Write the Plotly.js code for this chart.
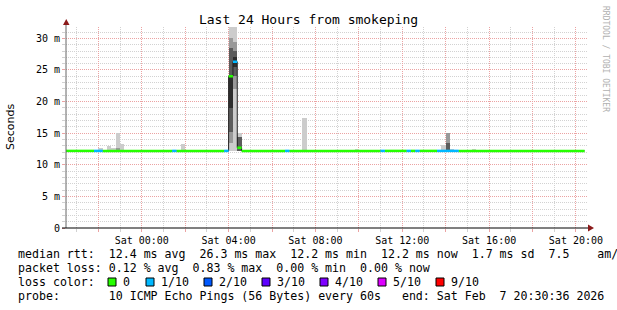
<!DOCTYPE html>
<html>
<head>
<meta charset="utf-8">
<script src="https://cdn.plot.ly/plotly-3.0.1.min.js"></script>
<style>
html,body{margin:0;padding:0;background:#fff;overflow:hidden;}
#chart{width:617px;height:310px;}
</style>
</head>
<body>
<div id="chart"></div>
<script>
// ---------- data ----------
const xStart = '2026-02-06 20:30:36';
const xEnd   = '2026-02-07 20:30:36';

const xTickVals = ['2026-02-06 22:00','2026-02-07 00:00','2026-02-07 02:00','2026-02-07 04:00',
                   '2026-02-07 06:00','2026-02-07 08:00','2026-02-07 10:00','2026-02-07 12:00',
                   '2026-02-07 14:00','2026-02-07 16:00','2026-02-07 18:00','2026-02-07 20:00'];
const xTickText = ['','Sat 00:00','','Sat 04:00','','Sat 08:00','','Sat 12:00','','Sat 16:00','','Sat 20:00'];

const yTickVals = [0,5,10,15,20,25,30];
const yTickText = ['0','5 m','10 m','15 m','20 m','25 m','30 m'];

// median rtt segments (ms) and loss bucket (index into lossColors)
const segStart  = ['2026-02-06 20:30:36','2026-02-06 21:48','2026-02-06 22:12','2026-02-07 01:24','2026-02-07 01:36',
                   '2026-02-07 03:48','2026-02-07 04:00','2026-02-07 04:12','2026-02-07 04:24','2026-02-07 04:36',
                   '2026-02-07 06:36','2026-02-07 06:48','2026-02-07 11:00','2026-02-07 11:12','2026-02-07 12:12',
                   '2026-02-07 12:24','2026-02-07 12:36','2026-02-07 12:48','2026-02-07 13:36','2026-02-07 14:36'];
const segEnd    = ['2026-02-06 21:48','2026-02-06 22:12','2026-02-07 01:24','2026-02-07 01:36','2026-02-07 03:48',
                   '2026-02-07 04:00','2026-02-07 04:12','2026-02-07 04:24','2026-02-07 04:36','2026-02-07 06:36',
                   '2026-02-07 06:48','2026-02-07 11:00','2026-02-07 11:12','2026-02-07 12:12','2026-02-07 12:24',
                   '2026-02-07 12:36','2026-02-07 12:48','2026-02-07 13:36','2026-02-07 14:36','2026-02-07 20:24'];
const segMedian = [12.2,12.2,12.2,12.2,12.2, 12.2,24.0,26.3,12.7,12.2, 12.2,12.2,12.2,12.2,12.2, 12.2,12.2,12.2,12.2,12.2];
const segLoss   = [0,1,0,1,0, 1,0,1,0,0, 1,0,1,0,1, 0,1,0,1,0];

// smoke layers: slot start, low, high (ms); slots are 12 minutes long
const smokeLightStart = ['2026-02-06 22:00','2026-02-06 22:24','2026-02-06 22:36','2026-02-06 22:48','2026-02-06 23:00',
                         '2026-02-07 01:48','2026-02-07 04:00','2026-02-07 04:12','2026-02-07 04:24','2026-02-07 07:24',
                         '2026-02-07 09:48','2026-02-07 13:48','2026-02-07 14:12','2026-02-07 15:12'];
const smokeLightLow   = [12.2,12.2,12.2,12.2,12.2, 12.2,12.2,12.2,12.2,12.2, 12.2,12.2,12.2,12.2];
const smokeLightHigh  = [12.7,12.9,12.7,15.0,13.3, 13.3,33.0,33.0,15.0,17.4, 12.5,13.1,12.5,12.5];

const smokeMidStart = ['2026-02-06 22:48','2026-02-07 04:00','2026-02-07 04:12','2026-02-07 14:00'];
const smokeMidLow   = [12.2,13.4,22.0,12.2];
const smokeMidHigh  = [12.6,30.0,29.4,15.0];

const smokeDarkStart = ['2026-02-07 04:00','2026-02-07 04:12','2026-02-07 04:24','2026-02-07 14:00'];
const smokeDarkLow   = [15.2,24.0,12.2,12.2];
const smokeDarkHigh  = [28.4,28.0,14.4,13.4];

const smokeDarkestStart = ['2026-02-07 04:00','2026-02-07 04:12'];
const smokeDarkestLow   = [19.0,25.5];
const smokeDarkestHigh  = [23.9,27.0];

const lossColors = ['#26ff00','#00b8ff','#0059ff','#5e00ff','#7e00ff','#dd00ff','#ff0000'];
const lossLabels = ['0','1/10','2/10','3/10','4/10','5/10','9/10'];

const legendLines = [
  'median rtt:  12.4 ms avg  26.3 ms max  12.2 ms min  12.2 ms now  1.7 ms sd  7.5    am/s',
  'packet loss: 0.12 % avg  0.83 % max  0.00 % min  0.00 % now',
  'loss color:',
  'probe:       10 ICMP Echo Pings (56 Bytes) every 60s   end: Sat Feb  7 20:30:36 2026'
];

// ---------- geometry ----------
const W = 617, H = 310;
const L = 66, R = 587, T = 27, B = 228;
const px = x => (x - L) / (R - L);
const py = y => (B - y) / (B - T);
const nb = s => s.replace(/ /g, '\u00a0');
const SLOT = 12 * 60 * 1000;

// ---------- traces ----------
function smokeTrace(starts, lows, highs, color) {
  return {
    type: 'bar', x: starts, base: lows, y: highs.map((h, i) => h - lows[i]),
    width: starts.map(() => SLOT), offset: 0,
    marker: { color: color, line: { width: 0 } },
    hoverinfo: 'skip'
  };
}
const traces = [
  smokeTrace(smokeLightStart, smokeLightLow, smokeLightHigh, '#cccccc'),
  smokeTrace(smokeMidStart, smokeMidLow, smokeMidHigh, '#999999'),
  smokeTrace(smokeDarkStart, smokeDarkLow, smokeDarkHigh, '#5c5c5c'),
  smokeTrace(smokeDarkestStart, smokeDarkestLow, smokeDarkestHigh, '#2e2e2e')
];

// thin dark step line of the median (gives the vertical connectors)
const stepX = [], stepY = [];
segStart.forEach((s, i) => { stepX.push(s); stepY.push(segMedian[i]); });
stepX.push(segEnd[segEnd.length - 1]); stepY.push(segMedian[segMedian.length - 1]);
traces.push({ type: 'scatter', mode: 'lines', x: stepX, y: stepY, line: { shape: 'hv', color: '#202020', width: 1 }, hoverinfo: 'skip' });

// coloured median segments per loss bucket
lossColors.forEach((c, k) => {
  const xs = [], ys = [];
  segStart.forEach((s, i) => {
    if (segLoss[i] === k) { xs.push(s, segEnd[i], null); ys.push(segMedian[i], segMedian[i], null); }
  });
  if (xs.length) traces.push({ type: 'scatter', mode: 'lines', x: xs, y: ys, connectgaps: false,
    line: { color: c, width: 2.5 }, hoverinfo: 'skip' });
});

// ---------- annotations & shapes ----------
const mono = 'DejaVu Sans Mono, monospace';
const annotations = [];
const legendY = [254, 268, 282, 296];
legendLines.forEach((t, i) => annotations.push({
  xref: 'paper', yref: 'paper', x: px(16), y: py(legendY[i]), xanchor: 'left', yanchor: 'middle',
  text: nb(t), showarrow: false, font: { family: mono, size: 11.6, color: '#000' }
}));
const boxX = [108, 146, 204, 262, 320, 378, 436];
const shapes = [];
lossLabels.forEach((lab, i) => {
  shapes.push({ type: 'rect', xref: 'paper', yref: 'paper', x0: px(boxX[i]), x1: px(boxX[i] + 8),
    y0: py(286), y1: py(278), fillcolor: lossColors[i], line: { color: '#000', width: 1 } });
  annotations.push({ xref: 'paper', yref: 'paper', x: px(boxX[i] + 13), y: py(282), xanchor: 'left', yanchor: 'middle',
    text: nb(lab), showarrow: false, font: { family: mono, size: 11.6, color: '#000' } });
});
annotations.push({ xref: 'paper', yref: 'paper', x: px(11), y: py(127), xanchor: 'center', yanchor: 'middle',
  textangle: -90, showarrow: false,
  text: 'Seconds', font: { family: 'DejaVu Sans, sans-serif', size: 11, color: '#000' } });
annotations.push({ xref: 'paper', yref: 'paper', x: px(606), y: py(59), xanchor: 'center', yanchor: 'middle',
  textangle: 90, showarrow: false,
  text: nb('RRDTOOL / TOBI OETIKER'), font: { family: mono, size: 8, color: '#b0b0b0' } });

// axis extensions and arrows
shapes.push({ type: 'line', xref: 'paper', yref: 'paper', x0: px(66), x1: px(66), y0: py(228), y1: py(22), line: { color: '#666', width: 1 } });
shapes.push({ type: 'line', xref: 'paper', yref: 'paper', x0: px(62), x1: px(589), y0: py(228), y1: py(228), line: { color: '#000', width: 1 } });
shapes.push({ type: 'path', xref: 'paper', yref: 'paper',
  path: `M ${px(63)} ${py(25)} L ${px(69.5)} ${py(25)} L ${px(66.25)} ${py(19)} Z`, fillcolor: '#8b1a1a', line: { width: 0 } });
shapes.push({ type: 'path', xref: 'paper', yref: 'paper',
  path: `M ${px(588)} ${py(224.5)} L ${px(588)} ${py(231.5)} L ${px(594)} ${py(228)} Z`, fillcolor: '#8b1a1a', line: { width: 0 } });

const majorGrid = '#eba3a3', minorGrid = '#d2d2d2';
const layout = {
  width: W, height: H,
  margin: { l: L, r: W - R, t: T, b: H - B, pad: 0 },
  paper_bgcolor: '#ffffff', plot_bgcolor: '#ffffff',
  showlegend: false, barmode: 'overlay', bargap: 0,
  font: { family: mono, size: 10, color: '#000' },
  title: { text: 'Last 24 Hours from smokeping', font: { family: mono, size: 13, color: '#000' },
    x: 0.5, xref: 'container', xanchor: 'center', y: 1 - 19 / H, yref: 'container', yanchor: 'middle' },
  xaxis: {
    type: 'date', range: [xStart, xEnd], tickmode: 'array', tickvals: xTickVals, ticktext: xTickText,
    ticks: 'outside', ticklen: 3, tickcolor: majorGrid, tickwidth: 1,
    showgrid: true, gridcolor: majorGrid, griddash: '1px,1px', gridwidth: 1,
    minor: { tickmode: 'linear', tick0: '2026-02-07 00:00', dtick: 3600000, ticks: 'outside', ticklen: 3,
      tickcolor: minorGrid, showgrid: true, gridcolor: minorGrid, griddash: '1px,1px', gridwidth: 1 },
    showline: false, zeroline: false, tickfont: { family: mono, size: 10, color: '#000' }, fixedrange: true
  },
  yaxis: {
    range: [0, 31.8], tickmode: 'array', tickvals: yTickVals, ticktext: yTickText,
    ticks: 'outside', ticklen: 3, tickcolor: majorGrid, tickwidth: 1,
    showgrid: true, gridcolor: majorGrid, griddash: '1px,1px', gridwidth: 1,
    minor: { tickmode: 'linear', tick0: 0, dtick: 1, ticks: 'outside', ticklen: 3,
      tickcolor: minorGrid, showgrid: true, gridcolor: minorGrid, griddash: '1px,1px', gridwidth: 1 },
    showline: false, zeroline: false, tickfont: { family: mono, size: 10, color: '#000' }, fixedrange: true
  },
  annotations: annotations,
  shapes: shapes
};

Plotly.newPlot('chart', traces, layout, { staticPlot: true, displayModeBar: false });
</script>
</body>
</html>
